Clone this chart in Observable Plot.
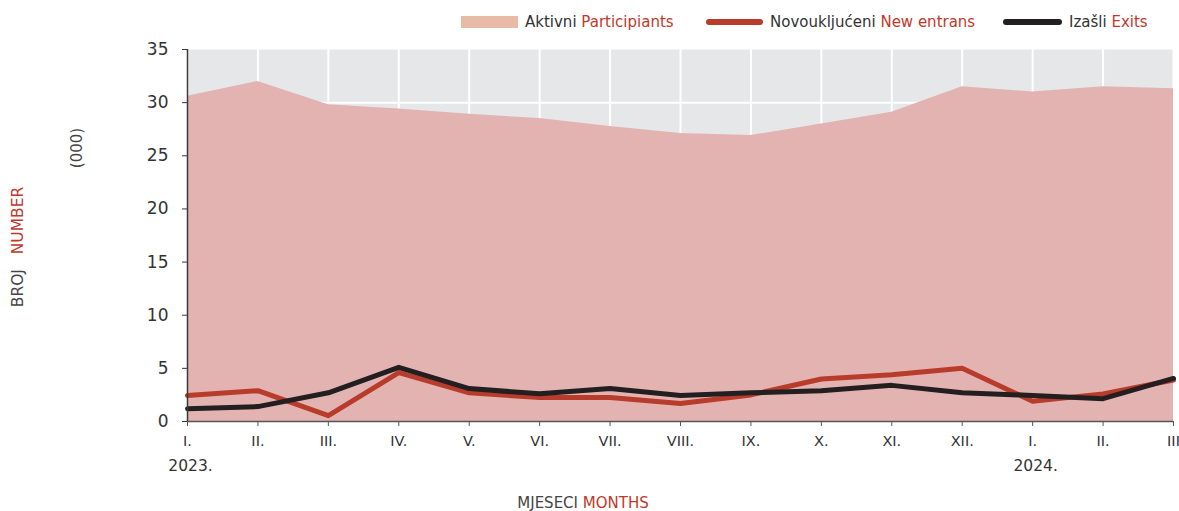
<!DOCTYPE html>
<html><head><meta charset="utf-8">
<script src="https://cdn.jsdelivr.net/npm/d3@7"></script>
<script src="https://cdn.jsdelivr.net/npm/@observablehq/plot@0.6"></script>
<style>
body{margin:0;background:#fff;font-family:"DejaVu Sans",sans-serif;color:#333;width:1179px;height:511px;overflow:hidden;position:relative;}
.abs{position:absolute;white-space:nowrap;}
.red{color:#c0392b;}
.lg{font-size:15px;line-height:18px;top:13px;}
.sw{position:absolute;}
</style>
</head><body>
<div id="legend" style="height:40px;position:relative;">
  <div class="sw" style="left:461px;top:16px;width:57px;height:12px;background:#e8bba7;"></div>
  <div class="abs lg" style="left:525px;">Aktivni <span class="red">Participiants</span></div>
  <div class="sw" style="left:706px;top:19px;width:57px;height:6px;border-radius:3px;background:#b83c2b;"></div>
  <div class="abs lg" style="left:770px;">Novoukljućeni <span class="red">New entrans</span></div>
  <div class="sw" style="left:1003px;top:19px;width:59px;height:6px;border-radius:3px;background:#231f20;"></div>
  <div class="abs lg" style="left:1069px;">Izašli <span class="red">Exits</span></div>
</div>
<div id="chart"></div>
<div class="abs" style="left:18px;top:247px;transform:translate(-50%,-50%) rotate(-90deg);font-size:15.5px;line-height:18px;color:#444;">BROJ&nbsp;&nbsp;&nbsp;<span class="red">NUMBER</span></div>
<div class="abs" style="left:77px;top:148px;transform:translate(-50%,-50%) rotate(-90deg);font-size:15px;line-height:18px;color:#444;">(000)</div>
<div class="abs" style="left:583px;top:503px;transform:translate(-50%,-50%);font-size:15px;line-height:16px;color:#444;">MJESECI <span class="red">MONTHS</span></div>
<script>
const months = ["I.","II.","III.","IV.","V.","VI.","VII.","VIII.","IX.","X.","XI.","XII.","I.","II.","III"];
const years = [{i:0, label:"2023."},{i:12, label:"2024."}];
const participants = [30.6,32.0,29.8,29.4,28.9,28.5,27.75,27.1,26.9,28.0,29.1,31.5,31.0,31.5,31.3];
const newEntrants = [2.45,2.9,0.55,4.6,2.7,2.25,2.25,1.7,2.5,4.0,4.4,5.0,1.9,2.6,3.9];
const exits = [1.2,1.4,2.7,5.1,3.1,2.6,3.1,2.45,2.7,2.9,3.4,2.7,2.45,2.15,4.05];
const yTicks = [0,5,10,15,20,25,30,35];

const data = months.map((m,i)=>({i, active:participants[i], nw:newEntrants[i], ex:exits[i]}));
const idx = d3.range(months.length);

const chart = Plot.plot({
  width:1179, height:471,
  marginTop:9, marginBottom:90, marginLeft:187, marginRight:6,
  style:{fontFamily:"DejaVu Sans, sans-serif", color:"#333", background:"transparent", overflow:"visible"},
  x:{type:"linear", domain:[0,14], axis:null},
  y:{domain:[0,35], axis:null},
  marks:[
    Plot.frame({fill:"#e6e7e9", stroke:null}),
    Plot.ruleX(idx, {stroke:"white", strokeWidth:2}),
    Plot.ruleY(yTicks.slice(1,-1), {stroke:"white", strokeWidth:2}),
    Plot.areaY(data, {x:"i", y:"active", fill:"#e3b3b2"}),
    Plot.line(data, {x:"i", y:"nw", stroke:"#b83c2b", strokeWidth:5, strokeLinejoin:"round", strokeLinecap:"round"}),
    Plot.line(data, {x:"i", y:"ex", stroke:"#231f20", strokeWidth:5, strokeLinejoin:"round", strokeLinecap:"round"}),
    Plot.ruleX([0], {y1:0, y2:35, stroke:"#3a3a3a", strokeWidth:1.5}),
    Plot.ruleY([0], {stroke:"#555", strokeWidth:1.5}),
    Plot.axisY(yTicks, {tickSize:5, tickPadding:14, fontSize:17, label:null, stroke:"#3a3a3a", fill:"#333"}),
    Plot.axisX(idx, {tickSize:5, tickPadding:9, fontSize:14.5, label:null, tickFormat:i=>months[i], stroke:"#555", fill:"#333"}),
    Plot.text(years, {x:"i", y:()=>0, text:"label", dy:45, fontSize:15.5, dx:3, fill:"#333"})
  ]
});
document.getElementById("chart").appendChild(chart);
</script>
</body></html>
